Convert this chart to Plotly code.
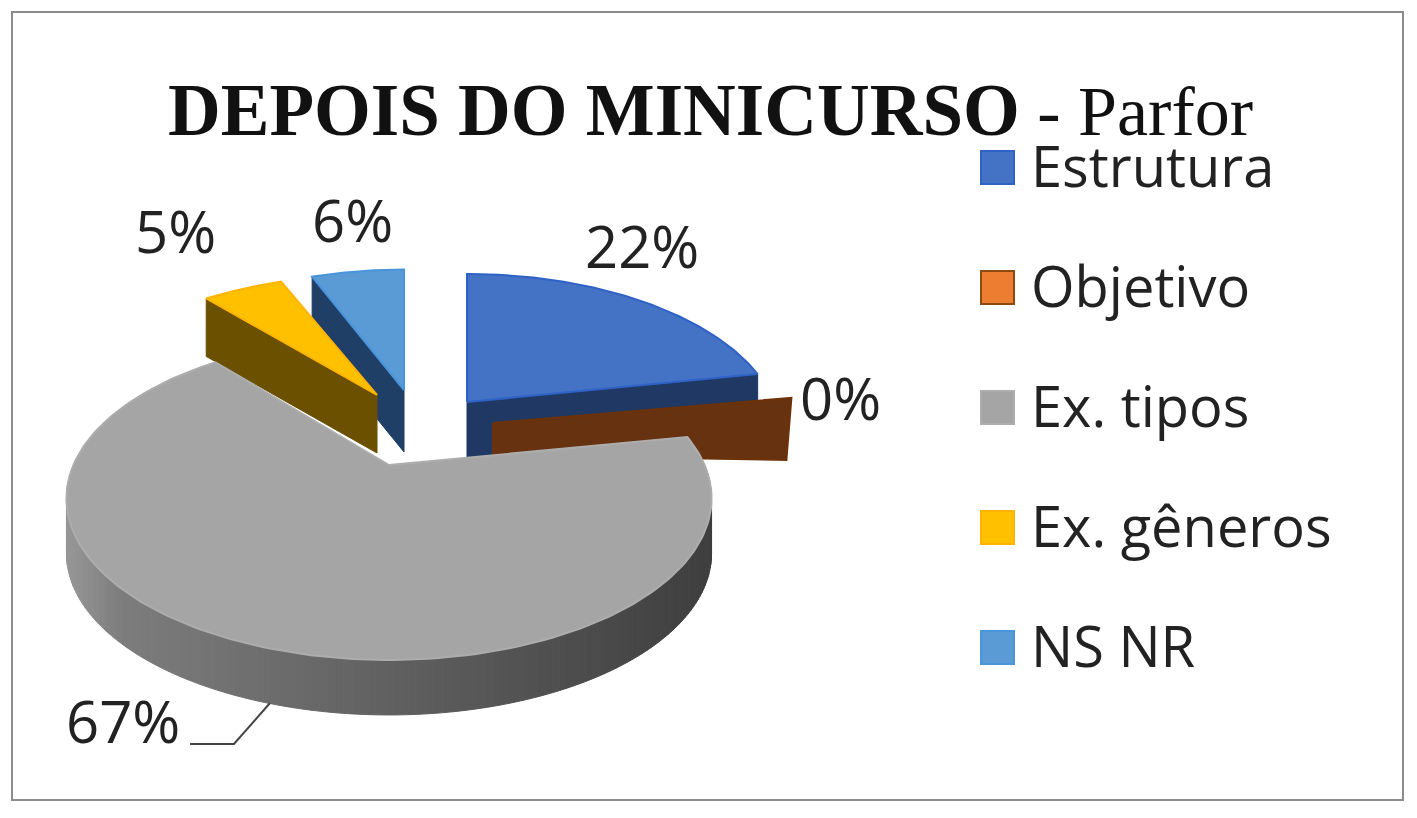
import math
import plotly.graph_objects as go

# data
categories = ["Estrutura", "Objetivo", "Ex. tipos", "Ex. gêneros", "NS NR"]
values = [22, 0, 67, 5, 6]
title_bold = "DEPOIS DO MINICURSO"
title_rest = " - Parfor"

top_colors = ["#4472c4", "#ed7d31", "#a5a5a5", "#ffc000", "#5b9bd5"]
edge_colors = ["#2f62c6", "#8a4a10", "#adadad", "#ffb400", "#4a94dc"]
wall_colors = ["#1f3864", "#663210", None, "#6b5000", "#1f3f66"]

# 3d look of the pie: apex x, apex y, x scale, y scale, depth of each exploded slice
apex_x = [467, 493, 389, 377, 404]
apex_y = [402, 423, 465, 395, 390]
scale_x = [0.94, 0.965, 0.965, 0.95, 0.91]
scale_y = [1.0, 0.9, 1.0, 0.94, 0.94]
depth = [56, 62, 55, 58, 62]
RX, RY, PERSP = 327, 154.6, 0.207

label_x = [642, 840, 123, 175, 352]
label_y = [245, 397, 720, 230, 219]
legend_y = [165, 285, 405, 525, 645]
swatch_y = [167, 287, 407, 527, 647]
draw_order = [4, 3, 0, 1, 2]

# slice start / end angles, clockwise from 12 o'clock
angles = []
total = sum(values)
run = 0
for v in values:
    angles.append((run / total * 2 * math.pi, (run + v) / total * 2 * math.pi))
    run += v


def project(i, theta):
    u, w = math.sin(theta), -math.cos(theta)
    den = 1 - PERSP * w
    return apex_x[i] + scale_x[i] * RX * u / den, apex_y[i] + scale_y[i] * RY * w / den


def arc(i, steps=90):
    a, b = angles[i]
    return [project(i, a + (b - a) * n / steps) for n in range(steps + 1)]


def poly(fig, pts, fill, line=None, width=1):
    fig.add_trace(go.Scatter(
        x=[p[0] for p in pts] + [pts[0][0]],
        y=[p[1] for p in pts] + [pts[0][1]],
        mode="lines", fill="toself", fillcolor=fill,
        line=dict(color=line or fill, width=width),
        hoverinfo="skip", showlegend=False,
    ))


def gray_shade(x):
    # lighter on the left of the rim, dark on the right
    t = min(max((x - 70) / 640, 0), 1)
    if t < 0.08:
        c = 150 - t / 0.08 * 25
    else:
        c = 125 - (t - 0.08) / 0.92 * 62
    c = int(c)
    return f"rgb({c},{c},{c})"


fig = go.Figure()

for i in draw_order:
    apex = (apex_x[i], apex_y[i])
    pts = arc(i, 200 if i == 2 else 90)
    d = depth[i]
    if i == 2:
        # outer rim of the big slice, in strips for the shading
        for p, q in zip(pts[:-1], pts[1:]):
            col = gray_shade((p[0] + q[0]) / 2)
            poly(fig, [p, q, (q[0], q[1] + d), (p[0], p[1] + d)], col)
    elif i == 0:
        e = pts[-1]
        poly(fig, [apex, e, (e[0], e[1] + d), (apex[0], apex[1] + d)], wall_colors[i])
    elif i == 1:
        e = pts[-1]
        poly(fig, [apex, e, (e[0] - 5, e[1] + d), (apex[0], apex[1] + 32)], wall_colors[i], "#6e3208", 2)
    else:
        s = pts[0]
        poly(fig, [apex, s, (s[0], s[1] + d), (apex[0], apex[1] + d)], wall_colors[i])
    if values[i] > 0:
        poly(fig, [apex] + pts, top_colors[i], edge_colors[i], 2)

annotations = [dict(
    x=166, y=110, xref="x", yref="y", xanchor="left", yanchor="middle", showarrow=False,
    text=f"<b>{title_bold}</b><span style='font-size:70px'>{title_rest}</span>",
    font=dict(family="Liberation Serif", size=73, color="#111111"),
)]
for i, v in enumerate(values):
    annotations.append(dict(
        x=label_x[i], y=label_y[i], xref="x", yref="y", showarrow=False,
        text=f"{v}%", font=dict(family="Open Sans", size=58, color="#222222"),
    ))
    annotations.append(dict(
        x=1029, y=legend_y[i], xref="x", yref="y", xanchor="left", showarrow=False,
        text=categories[i], font=dict(family="Open Sans", size=56, color="#222222"),
    ))

shapes = [dict(type="rect", xref="x", yref="y", x0=12, y0=12, x1=1403, y1=800,
               line=dict(color="#8c8c8c", width=2), fillcolor="rgba(0,0,0,0)", layer="below")]
for i, ly in enumerate(swatch_y):
    shapes.append(dict(type="rect", xref="x", yref="y", x0=981, x1=1014, y0=ly - 16, y1=ly + 17,
                       fillcolor=top_colors[i], line=dict(color=edge_colors[i], width=2)))
shapes.append(dict(type="path", xref="x", yref="y", path="M 190 744 L 234 744 L 270 703",
                   line=dict(color="#444444", width=2)))

fig.update_layout(
    width=1417, height=818,
    margin=dict(l=0, r=0, t=0, b=0),
    paper_bgcolor="white", plot_bgcolor="white",
    xaxis=dict(range=[0, 1417], visible=False, fixedrange=True),
    yaxis=dict(range=[818, 0], visible=False, fixedrange=True),
    annotations=annotations, shapes=shapes, showlegend=False,
)

fig.write_html("out.html", config=dict(displayModeBar=False),
               post_script="document.body.style.margin='0';")
